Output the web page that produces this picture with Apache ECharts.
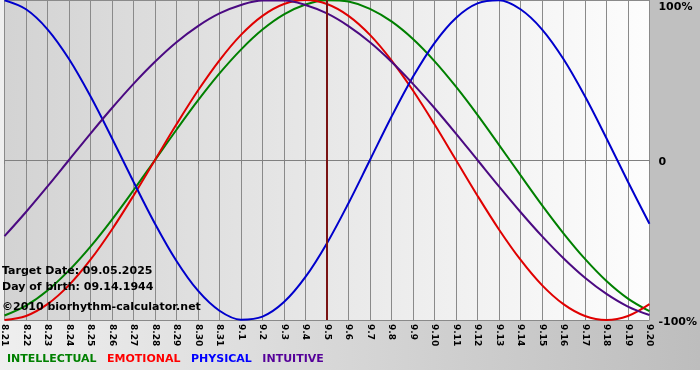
<!DOCTYPE html>
<html>
<head>
<meta charset="utf-8">
<script src="https://cdn.jsdelivr.net/npm/echarts@6/dist/echarts.min.js"></script>
<style>html,body{margin:0;padding:0;background:#fff}#c{width:700px;height:380px}</style>
</head>
<body>
<div id="c"></div>
<script>
var days = ['8.21','8.22','8.23','8.24','8.25','8.26','8.27','8.28','8.29','8.30','8.31',
  '9.1','9.2','9.3','9.4','9.5','9.6','9.7','9.8','9.9','9.10','9.11','9.12','9.13','9.14',
  '9.15','9.16','9.17','9.18','9.19','9.20'];
var intellectual = [-97.2,-91.0,-81.5,-69.0,-54.1,-37.2,-18.9,0,18.9,37.2,54.1,69.0,81.5,91.0,97.2,
  99.9,99.0,94.5,86.6,75.6,61.8,45.8,28.2,9.5,-9.5,-28.2,-45.8,-61.8,-75.6,-86.6,-94.5];
var emotional = [-100,-97.5,-90.1,-78.2,-62.3,-43.4,-22.3,0,22.3,43.4,62.3,78.2,90.1,97.5,100,
  97.5,90.1,78.2,62.3,43.4,22.3,0,-22.3,-43.4,-62.3,-78.2,-90.1,-97.5,-100,-97.5,-90.1];
var physical = [99.8,94.2,81.7,63.1,39.8,13.6,-13.6,-39.8,-63.1,-81.7,-94.2,-99.8,-97.9,-88.8,-73.1,
  -52.0,-27.0,0,27.0,52.0,73.1,88.8,97.9,99.8,94.2,81.7,63.1,39.8,13.6,-13.6,-39.8];
var intuitive = [-47.6,-32.5,-16.5,0,16.5,32.5,47.6,61.4,73.6,83.7,91.6,96.9,99.7,99.7,96.9,
  91.6,83.7,73.6,61.4,47.6,32.5,16.5,0,-16.5,-32.5,-47.6,-61.4,-73.6,-83.7,-91.6,-96.9];
var seriesNames = ['INTELLECTUAL','EMOTIONAL','PHYSICAL','INTUITIVE'];
var seriesColors = ['#008000','#e00000','#0000cc','#4b0a82'];
var legendColors = ['#008000','#ff0000','#0000ff','#550099'];
var yTicks = {max: 100, mid: 0, min: -100};
var targetDay = '9.5';
var infoLines = ['Target Date: 09.05.2025','Day of birth: 09.14.1944','\u00a92010 biorhythm-calculator.net'];

var chart = echarts.init(document.getElementById('c'), null, {renderer:'canvas'});
var values = [intellectual, emotional, physical, intuitive];
var series = values.map(function(v,i){
  return {
    name: seriesNames[i], type:'line', data: v, smooth: 0.35, symbol:'none',
    lineStyle:{color: seriesColors[i], width: 2}, itemStyle:{color: seriesColors[i]},
    z: 3 + i
  };
});
series[0].markLine = {
  symbol:'none', silent:true, label:{show:false},
  lineStyle:{color:'#7a1414', width:2, type:'solid'},
  data:[{xAxis: targetDay}], z: 10
};
var infoFont = 'bold 11px "DejaVu Sans"';
var option = {
  backgroundColor: '#ffffff',
  animation: false,
  graphic: [
    {type:'rect', z:-10, shape:{x:0,y:0,width:700,height:370},
     style:{fill:{type:'linear',x:0,y:0,x2:1,y2:0,colorStops:[{offset:0,color:'#efefef'},{offset:1,color:'#bdbdbd'}]}}},
    {type:'rect', z:-9, shape:{x:650,y:0,width:50,height:320}, style:{fill:'#c0c0c0'}},
    {type:'text', z:50, left:2, top:266, style:{text:infoLines[0], font:infoFont, fill:'#000'}},
    {type:'text', z:50, left:2, top:282, style:{text:infoLines[1], font:infoFont, fill:'#000'}},
    {type:'text', z:50, left:2, top:302, style:{text:infoLines[2], font:infoFont, fill:'#000'}}
  ],
  grid: {left:0, right:50, top:0, bottom:60, show:true, borderWidth:0,
    backgroundColor:{type:'linear',x:0,y:0,x2:1,y2:0,colorStops:[{offset:0,color:'#d3d3d3'},{offset:1,color:'#fdfdfd'}]}},
  legend: {
    left: 2, top: 354, icon:'none', itemWidth:0, itemHeight:0, itemGap:5.5, padding:0,
    textStyle:{fontFamily:'DejaVu Sans', fontWeight:'bold', fontSize:11, padding:0},
    data: seriesNames.map(function(n,i){return {name:n, textStyle:{color:legendColors[i]}};}),
    selectedMode:false
  },
  xAxis: {
    type:'category', data: days, boundaryGap:false,
    axisLine:{show:true, lineStyle:{color:'#808080', width:1}},
    axisTick:{show:true, interval:0, length:4, lineStyle:{color:'#808080'}},
    splitLine:{show:true, interval:0, lineStyle:{color:'#8a8a8a', width:1}},
    axisLabel:{interval:0, rotate:-90, margin:4, color:'#000', fontFamily:'DejaVu Sans', fontWeight:'bold', fontSize:9}
  },
  yAxis: {
    type:'value', position:'right', min:yTicks.min, max:yTicks.max, interval:100,
    axisLine:{show:false}, axisTick:{show:false},
    splitLine:{show:true, lineStyle:{color:'#8a8a8a', width:1}},
    axisLabel:{margin:9, color:'#000', fontFamily:'DejaVu Sans', fontWeight:'bold', fontSize:11,
      formatter:function(v){ if(v===yTicks.max) return '{a|100%}'; if(v===yTicks.min) return '{b|-100%}'; return '{b|0}'; },
      rich:{a:{padding:[14,0,0,0], fontFamily:'DejaVu Sans', fontWeight:'bold', fontSize:11, color:'#000'},
            b:{padding:[4,0,0,0], fontFamily:'DejaVu Sans', fontWeight:'bold', fontSize:11, color:'#000'}}}
  },
  series: series
};
chart.setOption(option);
</script>
</body>
</html>
